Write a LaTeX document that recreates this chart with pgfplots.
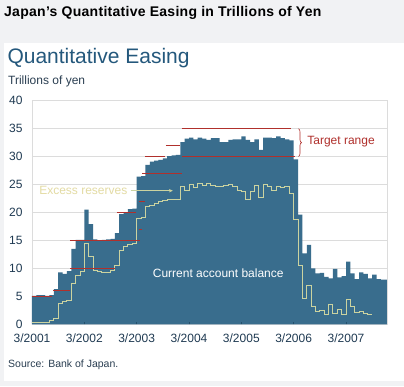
\documentclass[border=0pt]{standalone}
\usepackage{fontspec}
\setmainfont{Liberation Sans}
\newfontfamily\headfont[LetterSpace=2.0]{Liberation Sans}
\usepackage{pgfplots}
\usepackage{pgfplotstable}
\pgfplotsset{compat=1.18}
\usetikzlibrary{decorations.pathreplacing,arrows.meta}
\definecolor{barblue}{HTML}{396D8D}
\definecolor{tgtred}{HTML}{B0302C}
\definecolor{ercol}{HTML}{CBD3A0}
\definecolor{ertext}{HTML}{E3DBA3}
\definecolor{gridgray}{HTML}{DCDCDC}
\definecolor{tickcol}{HTML}{1F3A52}
\definecolor{titleblue}{HTML}{24587C}
\definecolor{subcol}{HTML}{2B3F52}
\definecolor{bggray}{HTML}{F1F2F4}
\definecolor{tickdark}{HTML}{24506C}

\pgfplotstableread{
m v
0 5.1
1 5.2
2 5.2
3 5.1
4 5.2
5 6.3
6 9.3
7 9.0
8 9.5
9 13.5
10 15.1
11 15.1
12 20.5
13 17.9
14 15.2
15 15.0
16 15.1
17 15.2
18 15.3
19 16.3
20 19.7
21 20.0
22 20.6
23 20.7
24 26.4
25 26.5
26 28.5
27 29.1
28 29.3
29 29.4
30 29.7
31 30.1
32 30.2
33 30.3
34 32.6
35 33.2
36 33.4
37 33.1
38 33.4
39 33.2
40 33.0
41 33.3
42 33.3
43 32.6
44 32.6
45 33.0
46 33.1
47 33.1
48 33.6
49 33.0
50 32.6
51 33.1
52 31.2
53 33.4
54 33.4
55 33.3
56 33.6
57 33.3
58 33.1
59 32.9
60 29.5
61 19.6
62 12.7
63 14.2
64 10.0
65 9.1
66 9.2
67 8.5
68 8.2
69 9.9
70 8.4
71 8.6
72 11.2
73 9.1
74 8.1
75 9.3
76 9.0
77 8.2
78 8.9
79 8.1
80 8.0
81 8.0
81.4 8.0
}\cab

\pgfplotstableread{
m v
0 0.4
1 0.4
2 0.4
3 0.4
4 0.6
5 1.0
6 3.7
7 4.0
8 4.3
9 7.3
10 8.8
11 9.4
12 14.4
13 12.1
14 9.6
15 9.4
16 9.3
17 9.3
18 9.6
19 10.6
20 13.3
21 13.9
22 14.2
23 14.4
24 19.0
25 19.1
26 21.0
27 21.3
28 21.6
29 21.9
30 22.1
31 22.3
32 22.3
33 22.4
34 24.6
35 24.0
36 25.1
37 24.5
38 25.2
39 24.9
40 25.2
41 24.9
42 24.7
43 24.6
44 24.8
45 25.0
46 24.7
47 24.0
48 23.7
49 22.4
50 23.8
51 24.8
52 22.7
53 25.0
54 24.7
55 23.9
56 24.7
57 24.4
58 24.7
59 23.4
60 18.7
61 10.6
62 4.6
63 7.0
64 3.2
65 2.3
66 2.4
67 1.8
68 3.6
69 2.0
70 2.6
71 1.8
72 4.4
73 3.2
74 2.1
75 2.3
76 2.0
77 1.8
78 1.8
}\er

\begin{document}
\begin{tikzpicture}[x=1pt,y=1pt]
\fill[bggray] (0,0) rectangle (404,386);
\fill[white] (4,5.3) rectangle (404,343.3);
\node[anchor=base west, inner sep=0pt, font=\headfont\bfseries\fontsize{14}{16}\selectfont, text=black] at (4,369.3) {Japan’s Quantitative Easing in Trillions of Yen};
\node[anchor=base west, inner sep=0pt, font=\fontsize{21}{24}\selectfont, text=titleblue] at (7.3,322.7) {Quantitative Easing};
\node[anchor=base west, inner sep=0pt, font=\fontsize{12}{14}\selectfont, text=subcol] at (8,301.3) {Trillions of yen};

\begin{axis}[
  at={(32pt,61.7pt)}, anchor=south west,
  width=355pt, height=223.6pt, scale only axis,
  xmin=0, xmax=81.4, ymin=0, ymax=40,
  ytick={0,5,...,40},
  xtick={0,12,24,36,48,60,72},
  xticklabels={3/2001,3/2002,3/2003,3/2004,3/2005,3/2006,3/2007},
  ymajorgrids,
  grid style={draw=gridgray, line width=0.6pt},
  axis line style={draw=gridgray, line width=0.6pt},
  major tick length=0pt,
  tick label style={font=\fontsize{12}{14}\selectfont, text=tickcol},
  /pgf/number format/assume math mode=true,
  yticklabel style={anchor=east, inner sep=0pt, xshift=-9.3pt},
  xticklabel style={anchor=north, inner sep=0pt, yshift=-9pt},
  clip=false,
]
\addplot[const plot, fill=barblue, draw=none] table[x=m, y=v] {\cab} \closedcycle;
\addplot[ycomb, draw=tickdark, line width=0.8pt, mark=none, forget plot] coordinates {(12,0.45) (24,0.45) (36,0.45) (48,0.45) (60,0.45) (72,0.45)};
\addplot[const plot, draw=ercol, line width=0.9pt, mark=none] table[x=m, y=v] {\er};
% target ranges
\addplot[tgtred, line width=1.4pt, forget plot] coordinates {(0,5) (4.7,5)};
\addplot[tgtred, line width=1.4pt, forget plot] coordinates {(4.9,6) (8.7,6)};
\addplot[tgtred, line width=1.4pt, forget plot] coordinates {(8.7,10) (19.0,10)};
\addplot[tgtred, line width=1.4pt, forget plot] coordinates {(8.7,15) (24.8,15)};
\addplot[tgtred, line width=1.4pt, forget plot] coordinates {(19.4,20) (23.9,20)};
\addplot[tgtred, line width=1.4pt, forget plot] coordinates {(24.6,17) (25.2,17)};
\addplot[tgtred, line width=1.4pt, forget plot] coordinates {(24.6,22) (25.9,22)};
\addplot[tgtred, line width=1.4pt, forget plot] coordinates {(25.2,27) (34.3,27)};
\addplot[tgtred, line width=1.4pt, forget plot] coordinates {(25.9,30) (30.5,30)};
\addplot[tgtred, line width=1.4pt, forget plot] coordinates {(30.7,32) (34.0,32)};
\addplot[tgtred, line width=1.4pt, forget plot] coordinates {(34.3,35) (59.4,35)};
\addplot[tgtred, line width=1.4pt, forget plot] coordinates {(34.5,30) (60.3,30)};

\draw[decorate, decoration={brace, amplitude=3pt}, draw=tgtred, line width=0.6pt] (axis cs:61.1,35) -- (axis cs:61.1,30);
\node[anchor=west, inner sep=0pt, font=\fontsize{12}{14}\selectfont, text=tgtred] at (axis cs:63.1,32.6) {Target range};
\node[anchor=east, inner sep=0pt, font=\fontsize{12}{14}\selectfont, text=ertext] at (axis cs:21.9,23.9) {Excess reserves};
\draw[ercol, line width=0.8pt, -{Stealth[length=4pt,width=3.5pt]}] (axis cs:22.6,23.9) -- (axis cs:32.3,23.9);
\node[inner sep=0pt, font=\fontsize{12}{14}\selectfont, text=white] at (axis cs:42.7,9.2) {Current account balance};
\end{axis}

\node[anchor=base west, inner sep=0pt, font=\fontsize{10.5}{12}\selectfont, text=subcol] at (8,19) {Source: Bank of Japan.};
\pgfresetboundingbox
\path (0,0) rectangle (404,386);
\end{tikzpicture}
\end{document}
